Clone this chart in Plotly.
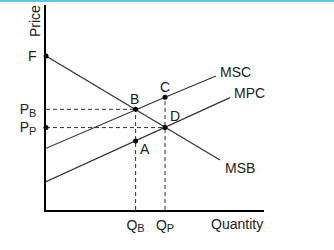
import plotly.graph_objects as go

# Data (quantity 0-100, price 0-100)
Q_B, Q_P = 41.1, 54.6
P_B, P_P = 49.1, 40.2
F_price = 75.1

msb_x = [0, Q_B, Q_P, 79.8]
msb_y = [F_price, P_B, P_P, 24.4]
msc_x = [0, Q_B, Q_P, 78.0]
msc_y = [30.1, P_B, 55.0, 65.4]
mpc_x = [0, Q_B, Q_P, 84.4]
mpc_y = [13.8, 33.7, P_P, 54.8]

pt_names = ["F", "B", "C", "D", "A", "Pp"]
pt_x = [0, Q_B, Q_P, Q_P, Q_B, 0]
pt_y = [F_price, P_B, 55.0, P_P, 33.7, P_P]

FONT = "Liberation Sans, Arial, sans-serif"
LC = "#333333"


def sub(main, s):
    return main + '<sub><span style="font-size:11px">' + s + '</span></sub>'


fig = go.Figure()
for xs, ys in [(msb_x, msb_y), (msc_x, msc_y), (mpc_x, mpc_y)]:
    fig.add_trace(go.Scatter(x=xs, y=ys, mode="lines",
                             line=dict(color=LC, width=1.2), hoverinfo="skip"))

dash = "4px,3px"
# dashed guides
fig.add_trace(go.Scatter(x=[0, Q_B], y=[P_B, P_B], mode="lines",
                         line=dict(color=LC, width=1, dash=dash)))
fig.add_trace(go.Scatter(x=[0, Q_P], y=[P_P, P_P], mode="lines",
                         line=dict(color=LC, width=1, dash=dash)))
fig.add_trace(go.Scatter(x=[Q_B, Q_B], y=[0, P_B], mode="lines",
                         line=dict(color=LC, width=1, dash=dash)))
fig.add_trace(go.Scatter(x=[Q_P, Q_P], y=[0, 55.0], mode="lines",
                         line=dict(color=LC, width=1, dash=dash)))

fig.add_trace(go.Scatter(x=pt_x, y=pt_y, mode="markers",
                         marker=dict(color="black", size=5), cliponaxis=False))

font = dict(family=FONT, size=14, color="#222222")
ann = [
    dict(x=Q_B, y=P_B, text="B", xshift=-1, yshift=10),
    dict(x=Q_P, y=55.0, text="C", xshift=0, yshift=10),
    dict(x=Q_P, y=P_P, text="D", xshift=10, yshift=12),
    dict(x=Q_B, y=33.7, text="A", xshift=9, yshift=-8),
    dict(x=78.0, y=65.4, text="MSC", xanchor="left", xshift=2, yshift=4),
    dict(x=84.4, y=54.8, text="MPC", xanchor="left", xshift=2, yshift=5),
    dict(x=79.8, y=24.4, text="MSB", xanchor="left", xshift=3, yshift=-8),
]
annotations = []
for a in ann:
    d = dict(xref="x", yref="y", showarrow=False, font=font)
    d.update(a)
    annotations.append(d)
annotations.append(dict(xref="paper", yref="paper", x=1.0, y=0, xanchor="center",
                        yanchor="top", yshift=-4, xshift=-27, text="Quantity",
                        showarrow=False, font=font))
annotations.append(dict(xref="paper", yref="paper", x=0, y=1.0, xanchor="center",
                        yanchor="middle", xshift=-11, yshift=-16, text="Price",
                        textangle=-90, showarrow=False, font=font))

fig.update_layout(
    width=334, height=250,
    margin=dict(l=46, r=70, t=5, b=40),
    paper_bgcolor="white", plot_bgcolor="white",
    showlegend=False,
    annotations=annotations,
    xaxis=dict(range=[0, 100], showgrid=False, zeroline=False, showline=True,
               linecolor="black", linewidth=1.5, tickvals=[Q_B, Q_P],
               ticktext=[sub("Q", "B"), sub("Q", "P")], ticks="",
               tickfont=font, fixedrange=True, ticklabelstandoff=1),
    yaxis=dict(range=[0, 100], showgrid=False, zeroline=False, showline=True,
               linecolor="black", linewidth=1.5, tickvals=[F_price, P_B, P_P],
               ticktext=["F", sub("P", "B"), sub("P", "P")], ticks="",
               tickfont=font, fixedrange=True, ticklabelstandoff=5),
    shapes=[dict(type="rect", xref="paper", yref="paper", x0=-0.3, x1=1.5,
                 y0=1 + 3 / 205, y1=1 + 5.5 / 205, fillcolor="#5BC6EE",
                 line=dict(width=0), layer="above")],
)

fig.write_html("out.html")
